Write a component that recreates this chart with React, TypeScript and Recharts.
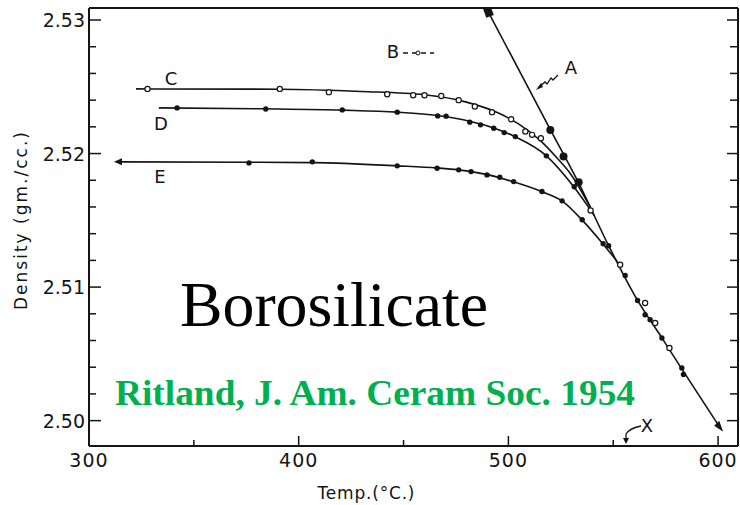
import React from 'react';
import { ComposedChart, Line, Scatter, XAxis, YAxis } from 'recharts';

// ---------- axis ticks ----------
const xTicks = [300, 350, 400, 450, 500, 550, 600];
const xMajor = [300, 400, 500, 600];
const yTicks = [2.5, 2.502, 2.504, 2.506, 2.508, 2.51, 2.512, 2.514, 2.516, 2.518, 2.52, 2.522, 2.524, 2.526, 2.528, 2.53];
const yMajor = [2.5, 2.51, 2.52, 2.53];
const yMajorLabels = ['2.50', '2.51', '2.52', '2.53'];

// ---------- fitted curves ----------
const aTemp = [490.6, 520.0, 533.5, 547.8, 561.6, 573.2, 583.0, 601.0];
const aDensity = [2.53055, 2.5218, 2.5178, 2.5131, 2.509, 2.5062, 2.5038, 2.49946];

const cTemp = [322.4, 391, 430, 460, 480, 495, 505, 515, 523, 530, 539];
const cDensity = [2.52484, 2.52482, 2.52465, 2.5244, 2.52385, 2.52305, 2.5222, 2.521, 2.5197, 2.5184, 2.516];

const dTemp = [333.3, 384, 421, 447, 466, 482, 493, 503, 518, 531, 541];
const dDensity = [2.52342, 2.52335, 2.52325, 2.5231, 2.52285, 2.5224, 2.52192, 2.52128, 2.51985, 2.51755, 2.51535];

const eTemp = [314.3, 376, 407, 447, 466, 476, 490, 502, 516, 526, 535, 545, 552];
const eDensity = [2.51938, 2.51935, 2.51932, 2.51908, 2.51892, 2.51878, 2.51842, 2.5179, 2.51714, 2.5164, 2.51505, 2.51325, 2.5119];

// ---------- measured points ----------
const openTemp = [327.9, 391, 414.4, 442.2, 454.6, 460, 468, 476.3, 484, 492.2, 501.3, 508.1, 511.3, 515.5, 539.2, 553.3, 565.2, 570, 576.8];
const openDensity = [2.52484, 2.52484, 2.5246, 2.52444, 2.52437, 2.52437, 2.52431, 2.524, 2.52352, 2.5231, 2.52257, 2.52165, 2.5214, 2.52115, 2.51574, 2.51167, 2.50881, 2.50731, 2.50544];

const filledTemp = [342, 384.3, 420.8, 447, 466.3, 470.3, 481.6, 486.7, 493, 498, 503.3, 518.1, 531.4,
  376.3, 406.5, 447, 466, 476.3, 482.2, 489.8, 495.9, 502.5, 516, 525.6, 535.2, 545.2,
  547.8, 555.7, 561.6, 565.2, 567.6, 573.2, 582.7, 583.5];
const filledDensity = [2.52342, 2.52334, 2.52327, 2.5231, 2.52282, 2.5228, 2.52235, 2.52215, 2.5219, 2.52157, 2.52127, 2.51983, 2.51751,
  2.5193, 2.51938, 2.51908, 2.5189, 2.51878, 2.51865, 2.5184, 2.51823, 2.5179, 2.51716, 2.51646, 2.51504, 2.51325,
  2.5131, 2.51087, 2.509, 2.50793, 2.50756, 2.50619, 2.50395, 2.50345];

const aPointTemp = [520, 526.3, 533.5];
const aPointDensity = [2.52177, 2.51978, 2.51786];
const aTopTemp = [490.6];
const aTopDensity = [2.53055];
const aEndTemp = [601.0];
const aEndDensity = [2.49946];
const eStartTemp = [314.3];
const eStartDensity = [2.51938];

const pts = (t: number[], d: number[]) => t.map((v, i) => ({ t: v, d: d[i] }));

const INK = '#141414';
const num = (v: any) => Number(v);

const BottomTick = (p: any) => {
  const x = num(p.x);
  const y = num(p.y);
  const major = xMajor.includes(p.payload.value);
  return (
    <g>
      <path d={`M${x},${y} V${y - (major ? 10 : 6)}`} stroke={INK} strokeWidth={1.5} fill="none" />
      {major && (
        <text x={x} y={y + 21} textAnchor="middle" fontFamily="DejaVu Sans" fontSize={19} fill={INK} letterSpacing={1}>
          {p.payload.value}
        </text>
      )}
    </g>
  );
};
const TopTick = (p: any) => {
  const x = num(p.x);
  const y = num(p.y);
  const major = xMajor.includes(p.payload.value);
  return <path d={`M${x},${y} V${y + (major ? 9 : 6)}`} stroke={INK} strokeWidth={1.5} fill="none" />;
};
const majorIndex = (v: number) => yMajor.findIndex((m) => Math.abs(m - v) < 1e-6);
const LeftTick = (p: any) => {
  const x = num(p.x);
  const y = num(p.y);
  const idx = majorIndex(p.payload.value);
  return (
    <g>
      <path d={`M${x},${y} H${x + (idx >= 0 ? 12 : 7)}`} stroke={INK} strokeWidth={1.5} fill="none" />
      {idx >= 0 && (
        <text x={x - 4} y={y + 7} textAnchor="end" fontFamily="DejaVu Sans" fontSize={19} fill={INK}>
          {yMajorLabels[idx]}
        </text>
      )}
    </g>
  );
};
const RightTick = (p: any) => {
  const x = num(p.x);
  const y = num(p.y);
  const idx = majorIndex(p.payload.value);
  return <path d={`M${x},${y} H${x - (idx >= 0 ? 11 : 8)}`} stroke={INK} strokeWidth={1.5} fill="none" />;
};

const OpenDot = (p: any) => <circle cx={p.cx} cy={p.cy} r={2.6} fill="#fff" stroke={INK} strokeWidth={1.2} />;
const FilledDot = (p: any) => <circle cx={p.cx} cy={p.cy} r={2.7} fill={INK} />;
const BigDot = (p: any) => <circle cx={p.cx} cy={p.cy} r={4} fill={INK} />;
const TopSquare = (p: any) => <rect x={p.cx - 4} y={p.cy - 5} width={8} height={9} fill={INK} transform={`rotate(-20 ${p.cx} ${p.cy})`} />;
const EndArrow = (p: any) => (
  <path d={`M${p.cx + 3},${p.cy + 4} L${p.cx - 6},${p.cy - 2} L${p.cx - 1},${p.cy - 7} Z`} fill={INK} />
);
const LeftArrow = (p: any) => (
  <path d={`M${p.cx - 5},${p.cy} L${p.cx + 3},${p.cy - 3.5} L${p.cx + 3},${p.cy + 3.5} Z`} fill={INK} />
);

export default function App() {
  const lineProps = { stroke: INK, strokeWidth: 1.6, dot: false, activeDot: false, isAnimationActive: false } as any;
  const axisLine = { stroke: INK, strokeWidth: 2 };
  return (
    <div style={{ position: 'absolute', left: 0, top: 0, width: 740, height: 505, background: '#fff' }}>
      <ComposedChart width={740} height={505} margin={{ top: 7, right: 1, bottom: 58, left: 0 }}>
        <XAxis
          xAxisId={0}
          dataKey="t"
          type="number"
          domain={[300, 609.5]}
          ticks={xTicks}
          interval={0}
          height={1}
          tickSize={0}
          tickMargin={0}
          tickLine={false}
          axisLine={axisLine}
          tick={BottomTick}
          allowDataOverflow
        />
        <XAxis
          xAxisId="top"
          orientation="top"
          type="number"
          domain={[300, 609.5]}
          ticks={xTicks}
          interval={0}
          height={1}
          tickSize={0}
          tickMargin={0}
          tickLine={false}
          axisLine={axisLine}
          tick={TopTick}
          allowDataOverflow
        />
        <YAxis
          yAxisId={0}
          dataKey="d"
          type="number"
          domain={[2.4981, 2.5309]}
          ticks={yTicks}
          interval={0}
          width={89}
          tickSize={0}
          tickMargin={0}
          tickLine={false}
          axisLine={axisLine}
          tick={LeftTick}
          allowDataOverflow
        />
        <YAxis
          yAxisId="right"
          orientation="right"
          type="number"
          domain={[2.4981, 2.5309]}
          ticks={yTicks}
          interval={0}
          width={1}
          tickSize={0}
          tickMargin={0}
          tickLine={false}
          axisLine={axisLine}
          tick={RightTick}
          allowDataOverflow
        />
        <Line data={pts(aTemp, aDensity)} dataKey="d" type="monotone" {...lineProps} />
        <Line data={pts(cTemp, cDensity)} dataKey="d" type="monotone" {...lineProps} />
        <Line data={pts(dTemp, dDensity)} dataKey="d" type="monotone" {...lineProps} />
        <Line data={pts(eTemp, eDensity)} dataKey="d" type="monotone" {...lineProps} />
        <Scatter data={pts(openTemp, openDensity)} dataKey="d" shape={<OpenDot />} isAnimationActive={false} />
        <Scatter data={pts(filledTemp, filledDensity)} dataKey="d" shape={<FilledDot />} isAnimationActive={false} />
        <Scatter data={pts(aPointTemp, aPointDensity)} dataKey="d" shape={<BigDot />} isAnimationActive={false} />
        <Scatter data={pts(aTopTemp, aTopDensity)} dataKey="d" shape={<TopSquare />} isAnimationActive={false} />
        <Scatter data={pts(aEndTemp, aEndDensity)} dataKey="d" shape={<EndArrow />} isAnimationActive={false} />
        <Scatter data={pts(eStartTemp, eStartDensity)} dataKey="d" shape={<LeftArrow />} isAnimationActive={false} />
      </ComposedChart>
      <svg width={740} height={505} style={{ position: 'absolute', left: 0, top: 0, pointerEvents: 'none' }}>
        {/* axis titles */}
        <text x={366} y={499} textAnchor="middle" fontFamily="DejaVu Sans" fontSize={17} fill={INK} textLength={97} lengthAdjust="spacing">
          Temp.(°C.)
        </text>
        <text
          x={0}
          y={0}
          transform="translate(27,221) rotate(-90)"
          textAnchor="middle"
          fontFamily="DejaVu Sans"
          fontSize={17}
          fill={INK}
          textLength={178}
          lengthAdjust="spacing"
        >
          Density (gm./cc.)
        </text>
        {/* curve labels */}
        <g fontFamily="DejaVu Sans" fontSize={18} fill={INK} textAnchor="middle">
          <text x={171} y={85}>C</text>
          <text x={161} y={130}>D</text>
          <text x={160} y={183}>E</text>
          <text x={571} y={74}>A</text>
          <text x={393} y={58}>B</text>
          <text x={647} y={432}>X</text>
        </g>
        <line x1={403} y1={53} x2={434} y2={53} stroke={INK} strokeWidth={1.3} strokeDasharray="5 4" />
        <circle cx={418} cy={53} r={2} fill="#fff" stroke={INK} strokeWidth={1} />
        <path d="M538,88 L545,82 L547,84 L551,78 L553,80 L558,75" fill="none" stroke={INK} strokeWidth={1.3} />
        <path d="M536,90 L541,83 L543,87 Z" fill={INK} />
        <path d="M641,426 Q630,428 626,434 L626,440" fill="none" stroke={INK} strokeWidth={1.3} />
        <path d="M623,438 L629,438 L626,444 Z" fill={INK} />
        {/* overlay captions */}
        <text x={180} y={326} fontFamily="Liberation Serif" fontSize={64} fill="#000" textLength={308} lengthAdjust="spacingAndGlyphs">
          Borosilicate
        </text>
        <text
          x={115}
          y={405}
          fontFamily="Liberation Serif"
          fontWeight="bold"
          fontSize={36}
          fill="#00B050"
          textLength={520}
          lengthAdjust="spacingAndGlyphs"
        >
          Ritland, J. Am. Ceram Soc. 1954
        </text>
      </svg>
    </div>
  );
}
